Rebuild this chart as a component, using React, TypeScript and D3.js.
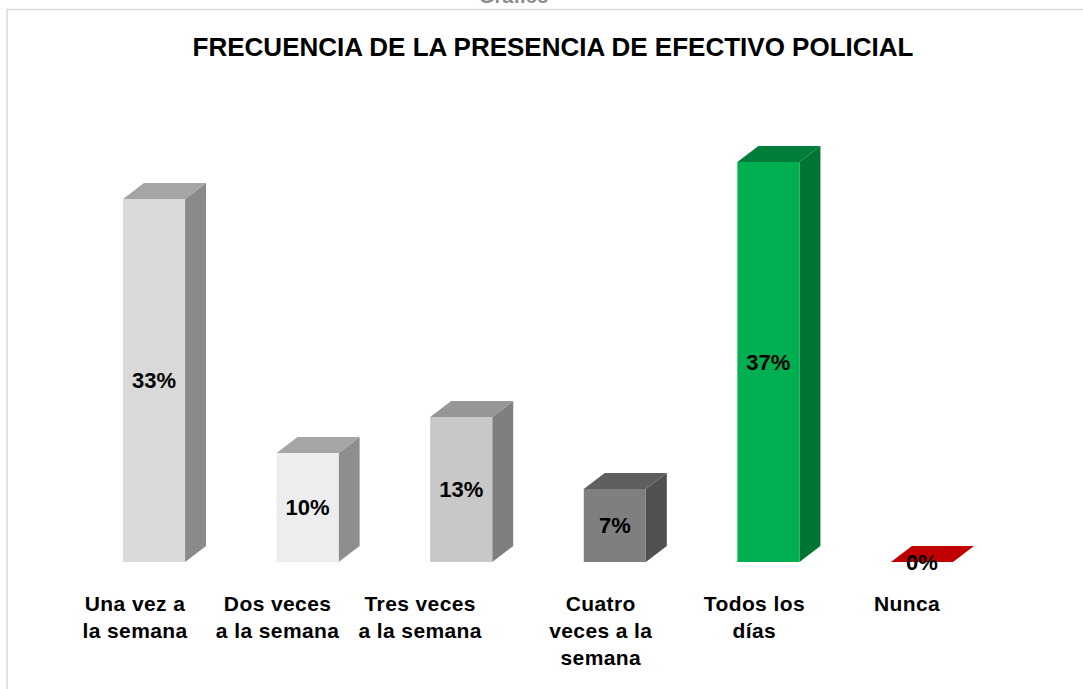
import React from "react";
import * as d3 from "d3";

const categories: string[][] = [
  ["Una vez a", "la semana"],
  ["Dos veces", "a la semana"],
  ["Tres veces", "a la semana"],
  ["Cuatro", "veces a la", "semana"],
  ["Todos los", "días"],
  ["Nunca"],
];
const values: number[] = [33.3, 10, 13.3, 6.7, 36.7, 0];
const yTicks: number[] = [0, 10, 20, 30, 40];
const title = "FRECUENCIA DE LA PRESENCIA DE EFECTIVO POLICIAL";

const faceColors = [
  { front: "#d9d9d9", top: "#a5a5a5", side: "#8a8a8a" },
  { front: "#ededed", top: "#a5a5a5", side: "#8e8e8e" },
  { front: "#c8c8c8", top: "#969696", side: "#7f7f7f" },
  { front: "#7f7f7f", top: "#5f5f5f", side: "#505050" },
  { front: "#00b050", top: "#007d3a", side: "#007434" },
  { front: "#c00000", top: "#c00000", side: "#a00000" },
];
const labelShift = [-19, -30, -41, -14, -14, -15];

const W = 1083;
const H = 689;
const DX = 21;
const DY = 16;
const FONT = "'Liberation Sans', Arial, Helvetica, sans-serif";

export default function App() {
  const keys = categories.map((c) => c.join(" "));
  const x = d3
    .scaleBand<string>()
    .domain(keys)
    .range([123, 953])
    .paddingInner(0.596)
    .paddingOuter(0);
  const y = d3
    .scaleLinear()
    .domain([yTicks[0], yTicks[yTicks.length - 1]])
    .range([562, 126]);
  const bw = x.bandwidth();
  const fmt = (v: number) => d3.format(".0f")(v) + "%";

  return (
    <svg
      width={W}
      height={H}
      style={{ position: "fixed", left: 0, top: 0, background: "#fff" }}
      fontFamily={FONT}
    >
      <rect x={0} y={0} width={W} height={H} fill="#fff" />
      <text
        x={514}
        y={3}
        textAnchor="middle"
        fontSize={20}
        fontWeight="bold"
        fill="#8c8c8c"
      >
        Gráfico
      </text>
      <rect
        x={7}
        y={9.5}
        width={W + 20}
        height={H + 20}
        fill="none"
        stroke="#d9d9d9"
        strokeWidth={1.5}
      />
      <text
        x={553}
        y={56}
        textAnchor="middle"
        fontSize={26}
        fontWeight="bold"
        fill="#000"
      >
        {title}
      </text>
      {values.map((v, i) => {
        const x0 = x(keys[i]) as number;
        const x1 = x0 + bw;
        const yb = y(0);
        const yt = y(v);
        const c = faceColors[i];
        const front = `M${x0},${yb}L${x1},${yb}L${x1},${yt}L${x0},${yt}Z`;
        const top = `M${x0},${yt}L${x0 + DX},${yt - DY}L${x1 + DX},${yt - DY}L${x1},${yt}Z`;
        const side = `M${x1},${yb}L${x1 + DX},${yb - DY}L${x1 + DX},${yt - DY}L${x1},${yt}Z`;
        return (
          <g key={i}>
            <path d={side} fill={c.side} />
            <path d={top} fill={c.top} />
            {yb - yt > 0 && <path d={front} fill={c.front} />}
          </g>
        );
      })}
      {values.map((v, i) => {
        const x0 = x(keys[i]) as number;
        const cy = (y(v) + y(0)) / 2;
        return (
          <text
            key={"l" + i}
            x={x0 + bw / 2}
            y={cy}
            dy="0.36em"
            textAnchor="middle"
            fontSize={22}
            fontWeight="bold"
            fill="#000"
          >
            {fmt(v)}
          </text>
        );
      })}
      {categories.map((lines, i) => {
        const cx = (x(keys[i]) as number) + bw / 2 + labelShift[i];
        return (
          <text
            key={"c" + i}
            x={cx}
            y={611}
            textAnchor="middle"
            fontSize={21}
            fontWeight="bold"
            letterSpacing={0.4}
            fill="#000"
          >
            {lines.map((ln, j) => (
              <tspan key={j} x={cx} y={611 + j * 27}>
                {ln}
              </tspan>
            ))}
          </text>
        );
      })}
    </svg>
  );
}
